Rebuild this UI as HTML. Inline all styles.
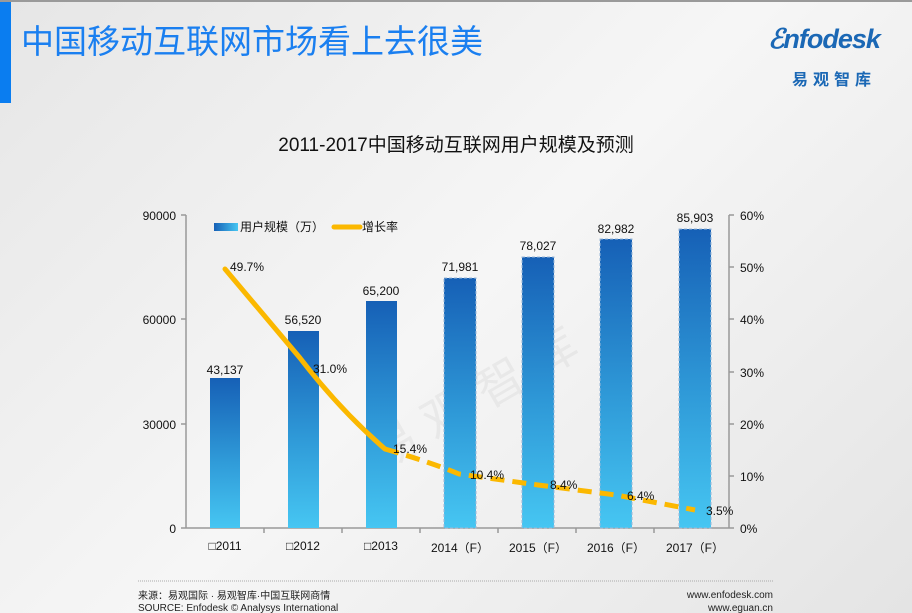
<!DOCTYPE html>
<html><head><meta charset="utf-8"><style>
body{margin:0;width:912px;height:613px;overflow:hidden;background:linear-gradient(135deg,#e6e6e6 0%,#f6f6f6 50%,#e4e4e4 100%);font-family:"Liberation Sans","Noto Sans CJK SC",sans-serif;position:relative}
.t{position:absolute;white-space:nowrap}
</style></head><body>
<div style="position:absolute;left:0;top:0;width:912px;height:2px;background:#9a9a9a"></div>
<div style="position:absolute;left:0;top:2px;width:11px;height:101px;background:#0a7df0"></div>
<div class="t" style="left:21px;top:15px;font-size:33px;color:#1a7ff0">中国移动互联网市场看上去很美</div>
<div class="t" style="left:768px;top:24px;font-size:27px;font-style:italic;font-weight:bold;color:#1b68b5;letter-spacing:-1px">ℰnfodesk</div>
<div class="t" style="left:792px;top:66px;font-size:16px;font-weight:bold;color:#1b68b5;letter-spacing:5px">易观智库</div>
<div class="t" style="left:0;width:912px;text-align:center;top:130px;font-size:19px;color:#111">2011-2017中国移动互联网用户规模及预测</div>
<svg width="912" height="613" style="position:absolute;left:0;top:0" font-family="Liberation Sans, Noto Sans CJK SC, sans-serif">
<defs><linearGradient id="g" x1="0" y1="0" x2="0" y2="1"><stop offset="0" stop-color="#1660b6"/><stop offset="0.55" stop-color="#2f9ad8"/><stop offset="1" stop-color="#46c6f2"/></linearGradient>
<linearGradient id="gl" x1="0" y1="0" x2="1" y2="0"><stop offset="0" stop-color="#1660b6"/><stop offset="1" stop-color="#46c6f2"/></linearGradient></defs>
<text x="330" y="420" font-size="48" fill="#000" opacity="0.04" transform="rotate(-30 450 350)">易 观 智 库</text>
<g stroke="#999" stroke-width="1.5" fill="none">
<line x1="186" y1="215" x2="186" y2="528"/><line x1="181" y1="215" x2="186" y2="215"/><line x1="181" y1="319" x2="186" y2="319"/><line x1="181" y1="424" x2="186" y2="424"/>
<line x1="181" y1="528" x2="729" y2="528"/>
<line x1="729" y1="215" x2="729" y2="528"/>
<line x1="729" y1="215" x2="734" y2="215"/><line x1="729" y1="267" x2="734" y2="267"/><line x1="729" y1="319" x2="734" y2="319"/><line x1="729" y1="372" x2="734" y2="372"/><line x1="729" y1="424" x2="734" y2="424"/><line x1="729" y1="476" x2="734" y2="476"/><line x1="729" y1="528" x2="734" y2="528"/>
<line x1="264" y1="528" x2="264" y2="533"/><line x1="342" y1="528" x2="342" y2="533"/><line x1="420" y1="528" x2="420" y2="533"/><line x1="498" y1="528" x2="498" y2="533"/><line x1="576" y1="528" x2="576" y2="533"/><line x1="654" y1="528" x2="654" y2="533"/>
</g>
<g font-size="12" fill="#111" text-anchor="end"><text x="176" y="220">90000</text><text x="176" y="324">60000</text><text x="176" y="429">30000</text><text x="176" y="533">0</text></g>
<g font-size="12" fill="#111"><text x="740" y="220">60%</text><text x="740" y="272">50%</text><text x="740" y="324">40%</text><text x="740" y="377">30%</text><text x="740" y="429">20%</text><text x="740" y="481">10%</text><text x="740" y="533">0%</text></g>
<g fill="url(#g)">
<rect x="210" y="378" width="30" height="150"/><rect x="288" y="331" width="31" height="197"/><rect x="366" y="301" width="31" height="227"/>
</g>
<g fill="url(#g)" stroke="#9ab8d8" stroke-dasharray="3,2">
<rect x="444" y="278" width="32" height="250"/><rect x="522" y="257" width="32" height="271"/><rect x="600" y="239" width="32" height="289"/><rect x="679" y="229" width="32" height="299"/>
</g>
<g font-size="12" fill="#111" text-anchor="middle">
<text x="225" y="374">43,137</text><text x="303" y="324">56,520</text><text x="381" y="295">65,200</text><text x="460" y="271">71,981</text><text x="538" y="250">78,027</text><text x="616" y="233">82,982</text><text x="695" y="222">85,903</text>
</g>
<path d="M225 269 L300 358 Q 340 410 385 449" stroke="#fbb800" stroke-width="5" fill="none" stroke-linecap="round"/>
<path d="M385 449 Q 430 462 459 474 L538 485 L616 495 L695 510" stroke="#fbb800" stroke-width="5" fill="none" stroke-dasharray="14,8"/>
<g font-size="12" fill="#111"><text x="230" y="271">49.7%</text><text x="313" y="373">31.0%</text><text x="393" y="453">15.4%</text><text x="470" y="479">10.4%</text><text x="550" y="489">8.4%</text><text x="627" y="500">6.4%</text><text x="706" y="515">3.5%</text></g>
<rect x="214" y="223" width="24" height="8" fill="url(#gl)"/>
<text x="240" y="231" font-size="12" fill="#111">用户规模（万）</text>
<line x1="334" y1="227" x2="360" y2="227" stroke="#fbb800" stroke-width="5" stroke-linecap="round"/>
<text x="362" y="231" font-size="12" fill="#111">增长率</text>
<g font-size="12" fill="#111" text-anchor="middle">
<text x="225" y="550">□2011</text><text x="303" y="550">□2012</text><text x="381" y="550">□2013</text><text x="460" y="552">2014（F）</text><text x="538" y="552">2015（F）</text><text x="616" y="552">2016（F）</text><text x="695" y="552">2017（F）</text>
</g>
<line x1="138" y1="581" x2="773" y2="581" stroke="#aaa" stroke-dasharray="1,1"/>
<g font-size="10" fill="#222"><text x="138" y="599">来源：易观国际 · 易观智库·中国互联网商情</text><text x="138" y="611">SOURCE: Enfodesk © Analysys International</text>
<text x="773" y="598" text-anchor="end">www.enfodesk.com</text><text x="773" y="611" text-anchor="end">www.eguan.cn</text></g>
</svg>
</body></html>
